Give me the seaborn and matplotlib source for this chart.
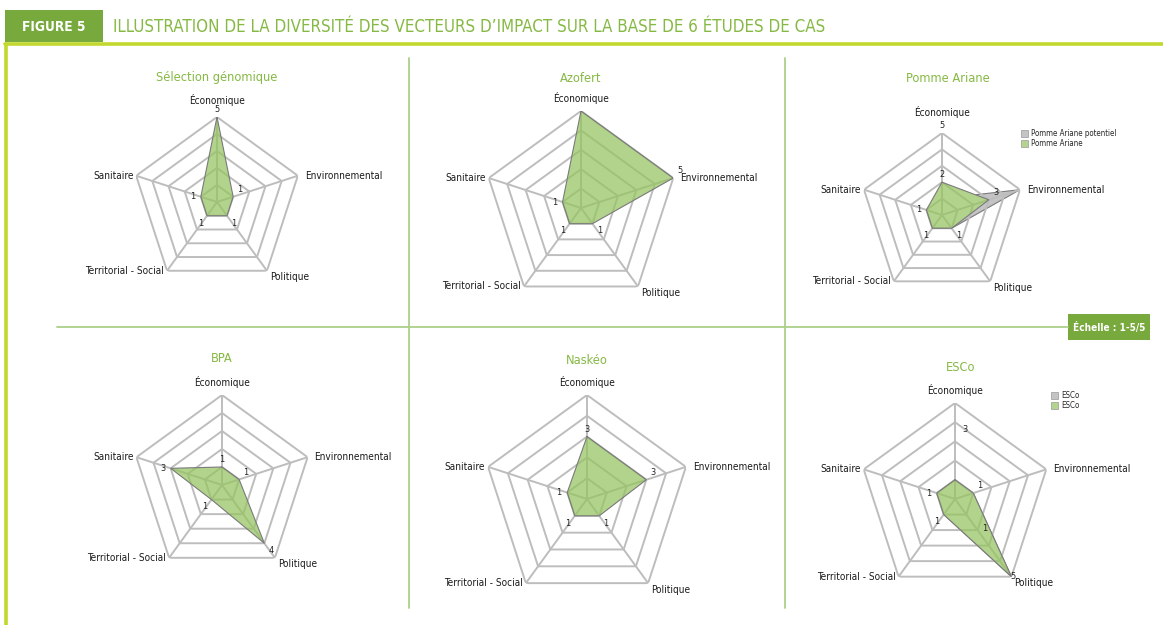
import numpy as np
import matplotlib
matplotlib.use("Agg")
import matplotlib.pyplot as plt
import seaborn as sns
from matplotlib.lines import Line2D
from matplotlib.patches import Rectangle, Patch
from matplotlib import font_manager as fm

# ---------------- data ----------------
AXES_LABELS = ["Économique", "Environnemental", "Politique", "Territorial - Social", "Sanitaire"]
CASES = ["Sélection génomique", "Azofert", "Pomme Ariane", "BPA", "Naskéo", "ESCo"]

SELECTION_GENOMIQUE = [5, 1, 1, 1, 1]
AZOFERT = [5, 5, 1, 1, 1]
POMME_ARIANE = [2, 3, 1, 1, 1]
POMME_ARIANE_POTENTIEL = [1, 5, 1, 1, 1]
BPA = [1, 1, 4, 1, 3]
NASKEO = [3, 3, 1, 1, 1]
ESCO = [1, 1, 5, 1, 1]
ESCO_GRIS = [1, 1, 5, 1, 1]

LABELS_SG = ["5", "1", "1", "1", "1"]
LABELS_AZOFERT = ["", "5", "1", "1", "1"]
LABELS_POMME = ["2", "3", "1", "1", "1"]
LABELS_BPA = ["1", "1", "4", "1", "3"]
LABELS_NASKEO = ["3", "3", "1", "1", "1"]
LABELS_ESCO = ["", "1", "", "1", "1"]

LEGEND_POMME = ["Pomme Ariane potentiel", "Pomme Ariane"]
LEGEND_ESCO = ["ESCo", "ESCo"]

TITLE = "ILLUSTRATION DE LA DIVERSITÉ DES VECTEURS D\u2019IMPACT SUR LA BASE DE 6 ÉTUDES DE CAS"
FIG_LABEL = "FIGURE 5"
SCALE_LABEL = "Échelle : 1-5/5"

# ---------------- style ----------------
sns.set_theme(style="white")
names = {f.name for f in fm.fontManager.ttflist}
if "Liberation Sans Narrow" in names:
    NARROW, STRETCH = "Liberation Sans Narrow", "normal"
else:
    NARROW, STRETCH = "DejaVu Sans", "condensed"
plt.rcParams["font.family"] = [NARROW, "DejaVu Sans"]
plt.rcParams["font.stretch"] = STRETCH

W, H = 1163, 625
DARK_GREEN = "#78a93c"
TITLE_GREEN = "#86b944"
LIME = "#c2d82f"
DIVIDER = "#add08a"
GRID = "#bdbdbd"
FILL = "#94c35e"
EDGE = "#7a7a7a"
GREY_FILL = "#c4c4c4"

fig = plt.figure(figsize=(W / 100, H / 100), dpi=100)
renderer = fig.canvas.get_renderer()


def fx(x):
    return x / W


def fy(y):
    return 1 - y / H


def fit(txt, width_px):
    bb = txt.get_window_extent(renderer)
    txt.set_fontsize(txt.get_fontsize() * width_px / bb.width)
    return txt.get_fontsize()


def fit_size(s, width_px, weight="normal"):
    t = fig.text(0, 0, s, fontsize=10, weight=weight)
    size = fit(t, width_px)
    t.remove()
    return size


CAT_FS = fit_size("Territorial - Social", 78)
CHART_TITLE_FS = fit_size("Sélection génomique", 122)
VAL_FS = CAT_FS * 0.92
LEG_FS = fit_size("Pomme Ariane potentiel", 86)

# ---------------- frame / header ----------------
fig.add_artist(Line2D([fx(5), fx(1163)], [fy(44), fy(44)], color=LIME, lw=2.6,
                      transform=fig.transFigure))
fig.add_artist(Line2D([fx(6), fx(6)], [fy(44), fy(625)], color=LIME, lw=2.6,
                      transform=fig.transFigure))
fig.add_artist(Rectangle((fx(5), fy(42)), (103 - 5) / W, (42 - 10) / H,
                         transform=fig.transFigure, color=DARK_GREEN, lw=0))
t = fig.text(fx(54), fy(27), FIG_LABEL, color="white", weight="bold",
             ha="center", va="center", fontsize=14)
fit(t, 64)
t = fig.text(fx(113), fy(27), TITLE, color=TITLE_GREEN, ha="left", va="center", fontsize=16)
fit(t, 715)

# dividers
for x in (409, 785):
    fig.add_artist(Line2D([fx(x), fx(x)], [fy(58), fy(608)], color=DIVIDER, lw=1.3,
                          transform=fig.transFigure))
fig.add_artist(Line2D([fx(57), fx(1068)], [fy(327), fy(327)], color=DIVIDER, lw=1.3,
                      transform=fig.transFigure))
fig.add_artist(Rectangle((fx(1068), fy(340)), (1150 - 1068) / W, (340 - 314) / H,
                         transform=fig.transFigure, color=DARK_GREEN, lw=0))
t = fig.text(fx(1109), fy(327), SCALE_LABEL, color="white", weight="bold",
             ha="center", va="center", fontsize=10)
fit(t, 72)

# ---------------- radar charts ----------------
THETA = np.linspace(0, 2 * np.pi, len(AXES_LABELS), endpoint=False)
TH_C = np.r_[THETA, THETA[0]]

# layout: centre x, centre y, radius (px), title y
LAYOUT = {
    "Sélection génomique": (217, 202, 85, 77),
    "Azofert": (581, 208, 97, 78),
    "Pomme Ariane": (942, 215, 82, 78),
    "BPA": (222, 485, 90, 358),
    "Naskéo": (587, 499, 104, 360),
    "ESCo": (955, 499, 96, 367),
}

SERIES = {
    "Sélection génomique": [(SELECTION_GENOMIQUE, FILL)],
    "Azofert": [(AZOFERT, FILL)],
    "Pomme Ariane": [(POMME_ARIANE_POTENTIEL, GREY_FILL), (POMME_ARIANE, FILL)],
    "BPA": [(BPA, FILL)],
    "Naskéo": [(NASKEO, FILL)],
    "ESCo": [(ESCO_GRIS, GREY_FILL), (ESCO, FILL)],
}
VALUE_LABELS = {
    "Sélection génomique": (SELECTION_GENOMIQUE, LABELS_SG),
    "Azofert": (AZOFERT, LABELS_AZOFERT),
    "Pomme Ariane": (POMME_ARIANE, LABELS_POMME),
    "BPA": (BPA, LABELS_BPA),
    "Naskéo": (NASKEO, LABELS_NASKEO),
    "ESCo": (ESCO, LABELS_ESCO),
}
# extra loose labels: (axis index, radius, text, dx pt, dy pt)
EXTRA = {
    "Pomme Ariane": [(0, 5, "5", 0, 2)],
    "ESCo": [(0, 3.4, "3", 7, 0), (2, 2.1, "1", 4, 2), (2, 5, "5", 1, 0)],
}
TOP_GAP = {"Pomme Ariane": 11, "Sélection génomique": 8}

# value-label offsets (pt) and alignment per axis
VOFF = [((0, 2), "center", "bottom"), ((3, 2), "left", "bottom"), ((3, -2), "left", "top"),
        ((-3, -2), "right", "top"), ((-4, 0), "right", "center")]

for case in CASES:
    cx, cy, R, ty = LAYOUT[case]
    ax = fig.add_axes([fx(cx - R), fy(cy + R), 2 * R / W, 2 * R / H], projection="polar")
    ax.set_theta_zero_location("N")
    ax.set_theta_direction(-1)
    ax.set_axis_off()

    for r in range(1, 6):
        ax.plot(TH_C, [r] * len(TH_C), color=GRID, lw=1.4, zorder=1, solid_joinstyle="miter")
    for th in THETA:
        ax.plot([th, th], [0, 5], color=GRID, lw=1.4, zorder=1)

    for vals, col in SERIES[case]:
        vc = np.r_[vals, vals[0]]
        if col == FILL:
            # mask what lies below, keep the grid visible through the green
            ax.fill(TH_C, vc, color="white", lw=0, zorder=0.6)
            ax.fill(TH_C, vc, color=col, alpha=0.72, lw=0, zorder=3)
        else:
            ax.fill(TH_C, vc, color=col, lw=0, zorder=0.5)
        sns.lineplot(x=TH_C, y=vc, sort=False, estimator=None, color=EDGE, lw=0.8,
                     ax=ax, zorder=4 if col == FILL else 0.55)
    ax.set_ylim(0, 5)
    ax.set_xlabel("")
    ax.set_ylabel("")

    vals, labs = VALUE_LABELS[case]
    for i, (v, s) in enumerate(zip(vals, labs)):
        if not s:
            continue
        (dx, dy), ha, va = VOFF[i]
        ax.annotate(s, xy=(THETA[i], v), xytext=(dx, dy), textcoords="offset points",
                    ha=ha, va=va, fontsize=VAL_FS, color="#222222", zorder=6)
    for i, r, s, dx, dy in EXTRA.get(case, []):
        ax.annotate(s, xy=(THETA[i], r), xytext=(dx, dy), textcoords="offset points",
                    ha="center", va="center" if i else "bottom", fontsize=VAL_FS,
                    color="#222222", zorder=6)

    # category labels
    gap = TOP_GAP.get(case, 5)
    cat_pos = [((0, gap), "center", "bottom"), ((5, 0), "left", "center"),
               ((2, -1), "left", "top"), ((-2, 0), "right", "center"),
               ((-2, 0), "right", "center")]
    for i, lab in enumerate(AXES_LABELS):
        (dx, dy), ha, va = cat_pos[i]
        ax.annotate(lab, xy=(THETA[i], 5), xytext=(dx, dy), textcoords="offset points",
                    ha=ha, va=va, fontsize=CAT_FS, color="#1a1a1a",
                    annotation_clip=False)

    fig.text(fx(cx if case not in ("Pomme Ariane", "ESCo") else cx + 6), fy(ty), case,
             color=TITLE_GREEN, fontsize=CHART_TITLE_FS, ha="center", va="center")

# legends
def small_legend(x, y, labels):
    handles = [Patch(facecolor=GREY_FILL, edgecolor="#999999", lw=0.5),
               Patch(facecolor="#b3d48e", edgecolor="#999999", lw=0.5)]
    fig.legend(handles, labels, loc="upper left", bbox_to_anchor=(fx(x), fy(y)),
               frameon=False, fontsize=LEG_FS, handlelength=0.9, handleheight=0.9,
               handletextpad=0.4, labelspacing=0.15, borderpad=0, borderaxespad=0)


small_legend(1021, 129, LEGEND_POMME)
small_legend(1051, 391, LEGEND_ESCO)

fig.savefig("out.png", dpi=100)
